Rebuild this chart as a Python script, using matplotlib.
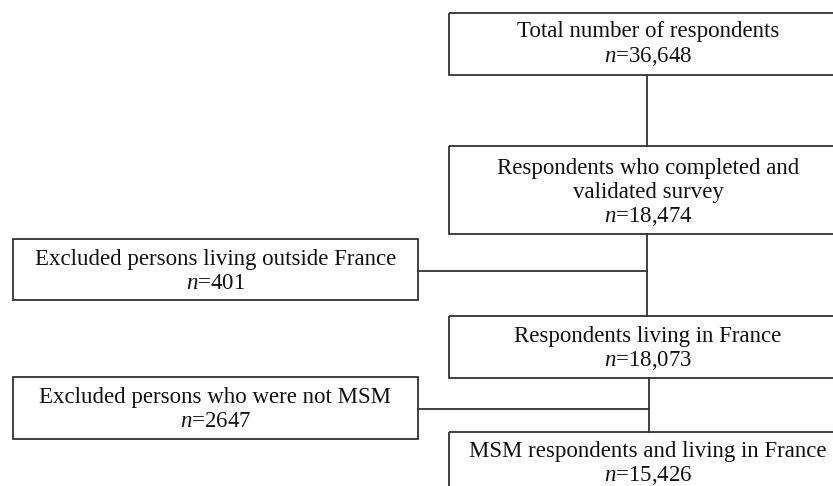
import matplotlib
matplotlib.use("Agg")
import matplotlib.pyplot as plt
from matplotlib.patches import Rectangle

plt.rcParams['mathtext.fontset'] = 'custom'
plt.rcParams['mathtext.it'] = 'Liberation Serif:italic'
plt.rcParams['mathtext.rm'] = 'Liberation Serif'

# Flowchart content
labels = [
    "Total number of respondents",
    "Respondents who completed and\nvalidated survey",
    "Excluded persons living outside France",
    "Respondents living in France",
    "Excluded persons who were not MSM",
    "MSM respondents and living in France",
]
counts = ["36,648", "18,474", "401", "18,073", "2647", "15,426"]

# Box layout (x0, y0, x1, y1) in pixel space
boxes = [
    (449, 13, 847, 75),
    (449, 146, 847, 234),
    (13, 239, 418, 300),
    (449, 316, 847, 378),
    (13, 377, 418, 439),
    (449, 432, 847, 494),
]
first_line_y = [32, 168, 259, 336, 397, 451]

W, H = 833, 486
fig = plt.figure(figsize=(W / 100, H / 100), dpi=100)
ax = fig.add_axes([0, 0, 1, 1])
ax.set_xlim(0, W)
ax.set_ylim(H, 0)
ax.axis('off')

ec = '#333333'
lw = 1.3
fs = 16.5
line_h = 24

for (x0, y0, x1, y1), lab, n, ly in zip(boxes, labels, counts, first_line_y):
    ax.add_patch(Rectangle((x0, y0), x1 - x0, y1 - y0, fill=False,
                           edgecolor=ec, linewidth=lw))
    cx = (x0 + x1) / 2
    lines = lab.split("\n") + [f"$n$={n}"]
    for i, t in enumerate(lines):
        ax.text(cx, ly + i * line_h, t, ha='center', va='center',
                fontsize=fs, family='Liberation Serif', color='#111111')

# Connectors
ax.plot([647, 647], [75, 146], color=ec, lw=lw)
ax.plot([647, 647], [234, 316], color=ec, lw=lw)
ax.plot([418, 647], [271, 271], color=ec, lw=lw)
ax.plot([649, 649], [378, 432], color=ec, lw=lw)
ax.plot([418, 649], [409, 409], color=ec, lw=lw)

fig.savefig("out.png", dpi=100)
